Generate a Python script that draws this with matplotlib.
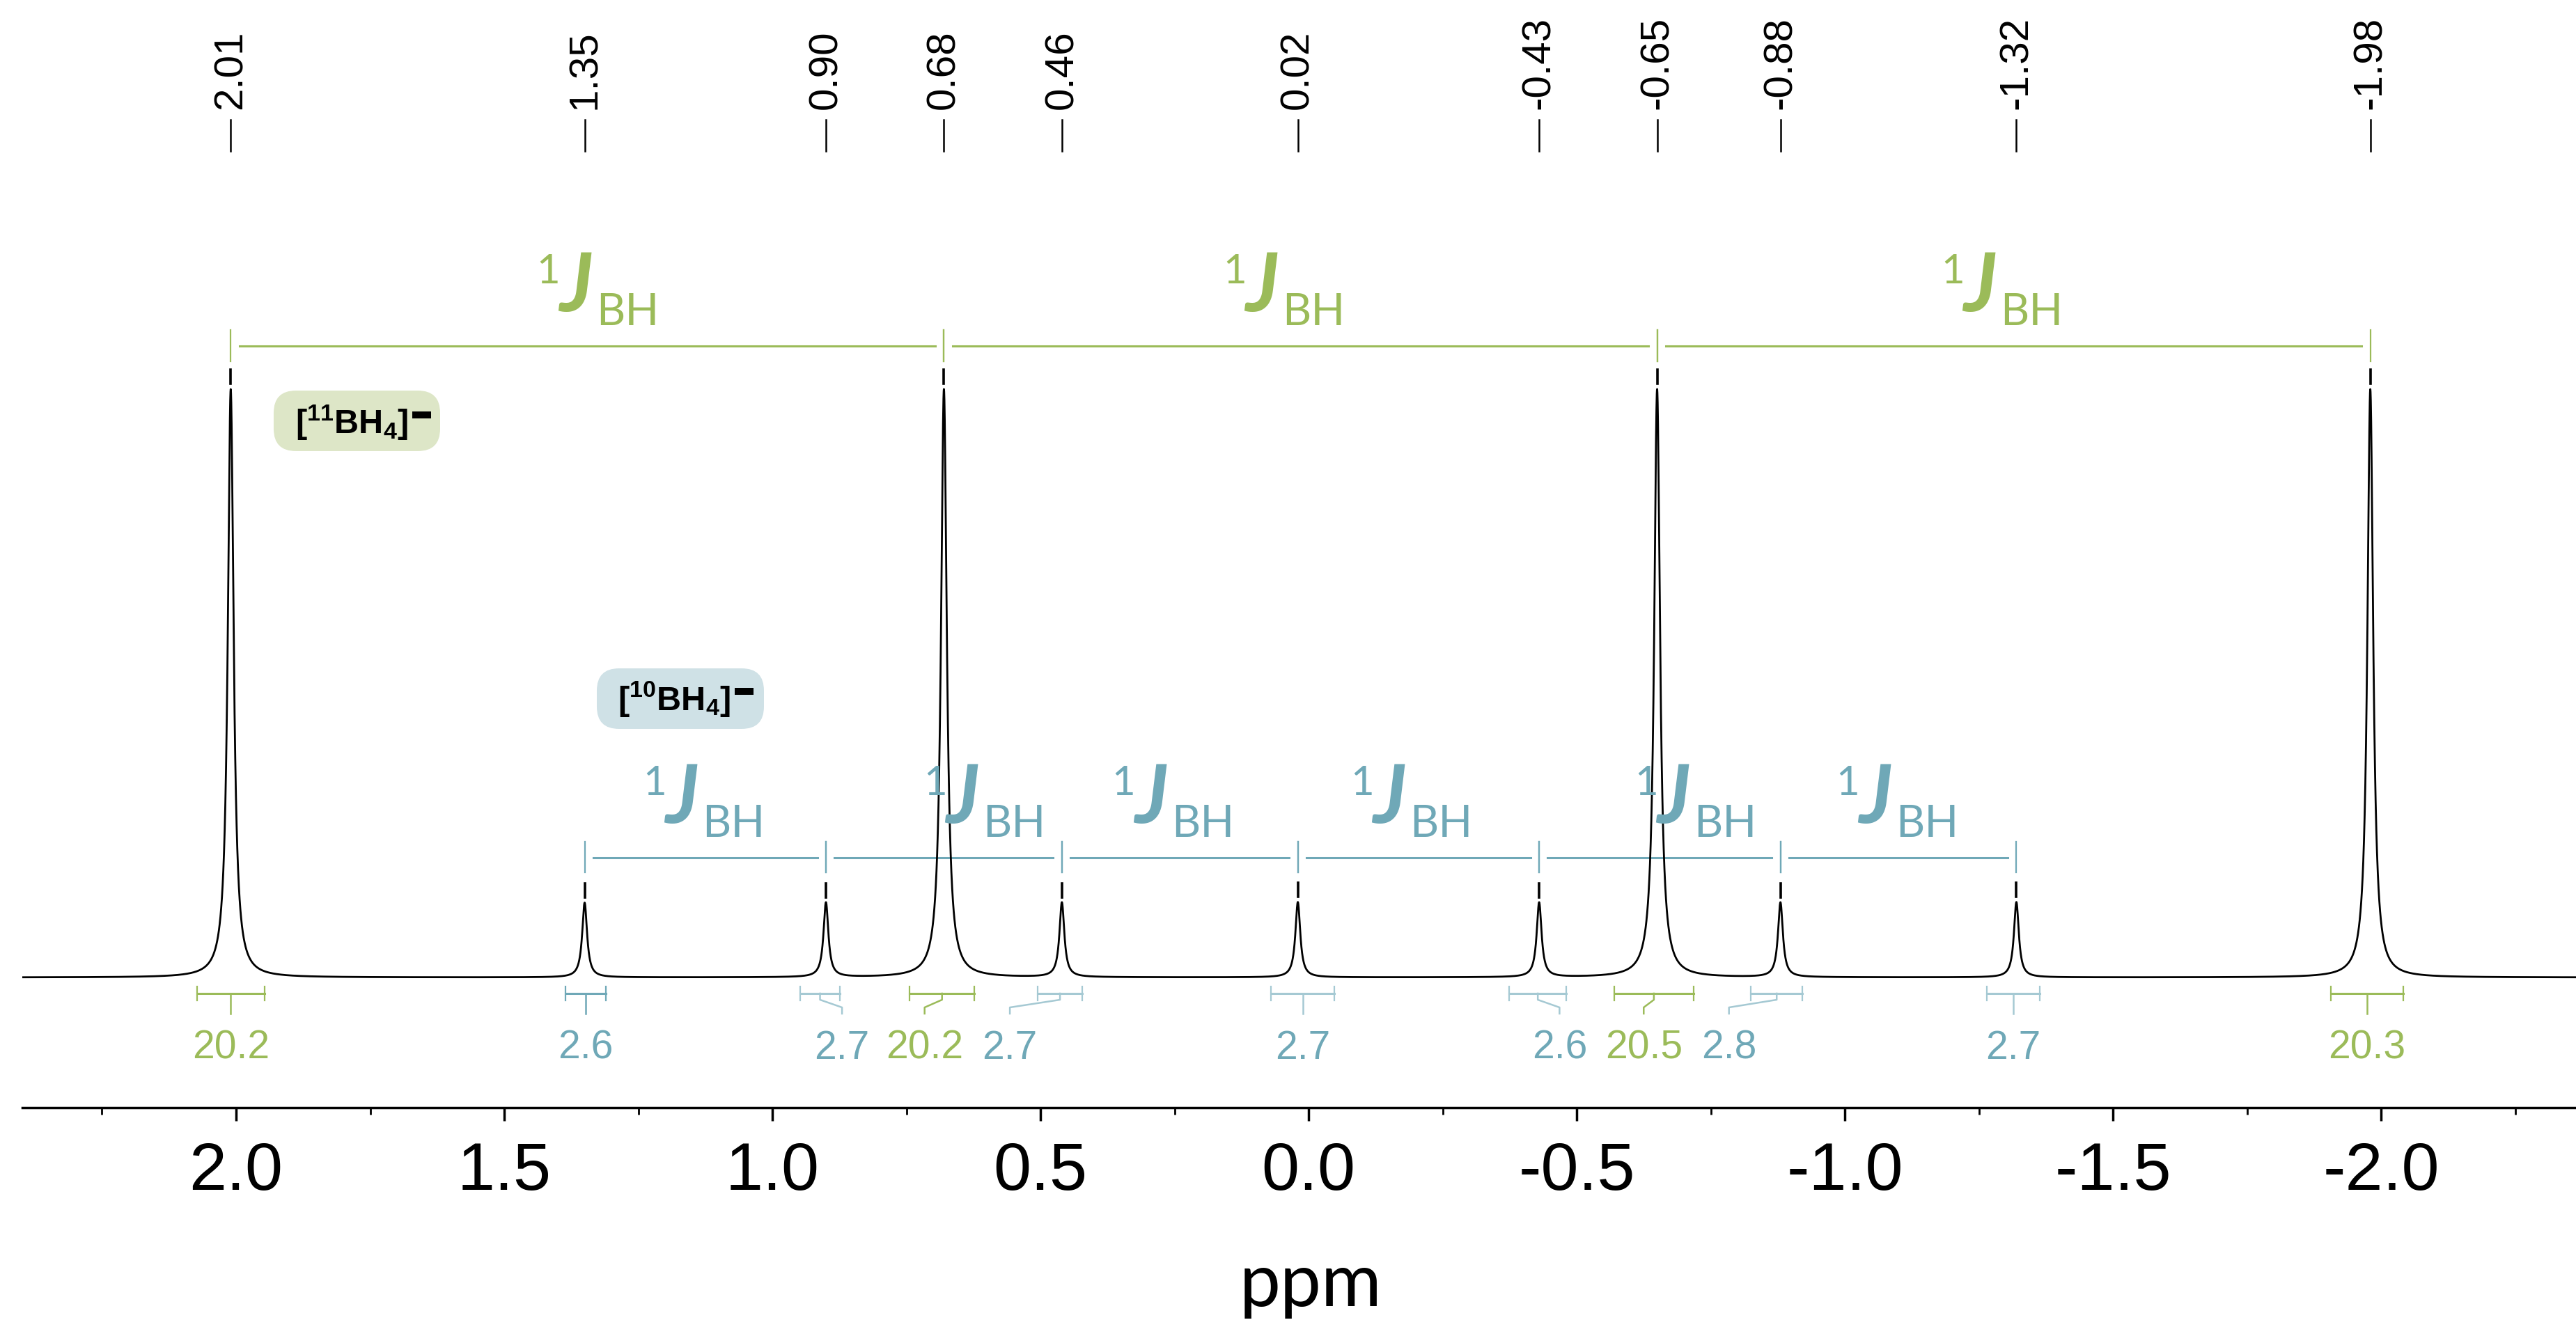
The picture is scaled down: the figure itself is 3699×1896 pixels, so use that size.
import numpy as np
import matplotlib
matplotlib.use('Agg')
import matplotlib.pyplot as plt
from matplotlib.patches import FancyBboxPatch, Rectangle
from matplotlib.ticker import MultipleLocator, FormatStrFormatter

plt.rcParams['axes.unicode_minus'] = False
plt.rcParams['mathtext.fontset'] = 'custom'
plt.rcParams['mathtext.rm'] = 'Liberation Sans'
plt.rcParams['mathtext.bf'] = 'Liberation Sans:bold'

# ---- data ----
peak_ppm    = [2.01, 1.35, 0.90, 0.68, 0.46, 0.02, -0.43, -0.65, -0.88, -1.32, -1.98]
peak_text   = ['2.01', '1.35', '0.90', '0.68', '0.46', '0.02', '-0.43', '-0.65', '-0.88', '-1.32', '-1.98']
peak_height = [1.0, 0.127, 0.127, 1.0, 0.127, 0.128, 0.127, 1.0, 0.127, 0.128, 1.0]
peak_fwhm   = [0.013, 0.011, 0.011, 0.013, 0.011, 0.011, 0.011, 0.013, 0.011, 0.011, 0.013]
peak_iso    = ['11', '10', '10', '11', '10', '10', '10', '11', '10', '10', '11']

# integration regions
int_lo    = [2.073, 1.386, 0.948, 0.744, 0.505, 0.070, -0.374, -0.570, -0.825, -1.265, -1.906]
int_hi    = [1.947, 1.310, 0.874, 0.623, 0.422, -0.048, -0.481, -0.718, -0.921, -1.364, -2.042]
int_value = ['20.2', '2.6', '2.7', '20.2', '2.7', '2.7', '2.6', '20.5', '2.8', '2.7', '20.3']
int_label_ppm = [2.010, 1.348, 0.870, 0.716, 0.557, 0.011, -0.468, -0.625, -0.784, -1.3145, -1.974]

# horizontal nudges (points) of the 1J labels from the bracket centre
green_label_dx = [-12, -40, -35]
teal_label_dx  = [-24, 19, -30, -30, 14, -24]

GREEN      = '#9bbb59'
TEAL       = '#6fa8b7'
TEAL_LIGHT = '#a5c9d3'
BOX_GREEN  = '#dde6c7'
BOX_TEAL   = '#cfe1e6'

W, H = 3699, 1896
PX_PPM, PX_Y = 770.0, 845.0   # pixels per ppm / per unit intensity
fig = plt.figure(figsize=(W / 100.0, H / 100.0), dpi=100)
ax = fig.add_axes([32.0 / W, 305.0 / H, 1 - 32.0 / W, 1591.0 / H])

# ---- spectrum (sum of lorentzian lines from the peak table) ----
x = np.linspace(2.40, -2.37, 30000)
y = np.zeros_like(x)
for p, h, w in zip(peak_ppm, peak_height, peak_fwhm):
    y += h / (1.0 + ((x - p) / (w / 2.0)) ** 2)
ax.plot(x, y, color='k', lw=2.0, zorder=3)

# peak pick labels at the top
for p, h, t in zip(peak_ppm, peak_height, peak_text):
    ax.plot([p, p], [1.4047, 1.4580], color='k', lw=1.8, clip_on=False)
    ax.text(p, 1.4757, t, rotation=90, ha='center', va='bottom',
            fontsize=42, family='Liberation Sans', clip_on=False)
    ax.plot([p, p], [h + 0.009, h + 0.033], color='k', lw=2.6)

# ---- coupling brackets ----
def jlabel(xc, yb, dx, color):
    kw = dict(xycoords='data', textcoords='offset points', color=color,
              va='baseline', family='Lato', annotation_clip=False)
    ax.annotate('J', (xc, yb), xytext=(dx, 0), ha='center', fontsize=84,
                fontstyle='italic', fontweight='bold', **kw)
    ax.annotate('1', (xc, yb), xytext=(dx - 16, 29), ha='right', fontsize=42, **kw)
    ax.annotate('BH', (xc, yb), xytext=(dx + 21, -14.4), ha='left', fontsize=46, **kw)

def jbracket(p1, p2, ybar, dx, color):
    gap = 0.016
    ax.plot([p1 - gap, p2 + gap], [ybar, ybar], color=color, lw=2.2)
    for p in (p1, p2):
        ax.plot([p, p], [ybar - 0.0255, ybar + 0.027], color=color, lw=1.6)
    jlabel((p1 + p2) / 2.0, ybar + 0.0592, dx, color)

big = [p for p, i in zip(peak_ppm, peak_iso) if i == '11']
small = [p for p, i in zip(peak_ppm, peak_iso) if i == '10']
for a, b, dx in zip(big[:-1], big[1:], green_label_dx):
    jbracket(a, b, 1.0734, dx, GREEN)
for a, b, dx in zip(small[:-1], small[1:], teal_label_dx):
    jbracket(a, b, 0.2036, dx, TEAL)

# ---- integrals ----
ybar, yk1, yk2, yk3, ylab = -0.0272, -0.0379, -0.0509, -0.0615, -0.1207
for k in range(len(int_lo)):
    if peak_iso[k] == '11':
        c, tc = GREEN, GREEN
    else:
        c, tc = (TEAL if k == 1 else TEAL_LIGHT), TEAL
    lo, hi = int_lo[k], int_hi[k]
    mid = (lo + hi) / 2.0
    ax.plot([lo, hi], [ybar, ybar], color=c, lw=2.2)
    for e in (lo, hi):
        ax.plot([e, e], [ybar - 0.0118, ybar + 0.0118], color=c, lw=1.6)
    lx = int_label_ppm[k]
    ax.plot([mid, mid, lx, lx], [ybar, yk1, yk2, yk3], color=c, lw=1.8)
    ax.text(lx, ylab, int_value[k], ha='center', va='center', fontsize=41,
            family='Liberation Sans', color=tc)

# ---- species boxes ----
def species_box(x_left, x_right, y_bot, y_top, tx, ty, label, fc):
    r = 32.0
    box = FancyBboxPatch((x_right, y_bot), x_left - x_right, y_top - y_bot,
                         boxstyle='round,pad=0,rounding_size=%f' % (r / PX_PPM),
                         mutation_aspect=PX_PPM / PX_Y, fc=fc, ec='none', zorder=2)
    ax.add_patch(box)
    ax.text(tx, ty, label, ha='center', va='center', fontsize=35, zorder=4)
    # heavy charge bar (27 x 10 px) right of the closing bracket
    bw, bh = 27.0 / PX_PPM, 10.0 / PX_Y
    cx, cy = tx - 100.0 / PX_PPM, ty + 11.0 / PX_Y
    ax.add_patch(Rectangle((cx - bw / 2, cy - bh / 2), bw, bh, fc='k', ec='none', zorder=4))

species_box(1.9299, 1.6195, 0.8947, 0.9976, 1.7844, 0.943,
            r'$\mathbf{[^{11}BH_4]}$', BOX_GREEN)
species_box(1.3273, 1.0156, 0.4225, 0.5254, 1.1831, 0.4734,
            r'$\mathbf{[^{10}BH_4]}$', BOX_TEAL)

# ---- axes ----
ax.set_xlim(2.3987, -2.3636)
ax.set_ylim(-0.2213, 1.6615)
for s in ('top', 'left', 'right'):
    ax.spines[s].set_visible(False)
ax.spines['bottom'].set_linewidth(2.5)
ax.set_yticks([])
ax.xaxis.set_major_locator(MultipleLocator(0.5))
ax.xaxis.set_minor_locator(MultipleLocator(0.25))
ax.xaxis.set_major_formatter(FormatStrFormatter('%.1f'))
ax.tick_params(axis='x', which='major', length=13.7, width=2.5, pad=21,
               labelsize=70)
ax.tick_params(axis='x', which='minor', length=7, width=2.0)
for lab in ax.get_xticklabels():
    lab.set_family('Liberation Sans')
ax.patch.set_visible(False)

fig.text(1882.0 / W, 1 - 1876.0 / H, 'ppm', ha='center', va='baseline',
         fontsize=76, family='Lato')

fig.savefig('out.png', dpi=100)
